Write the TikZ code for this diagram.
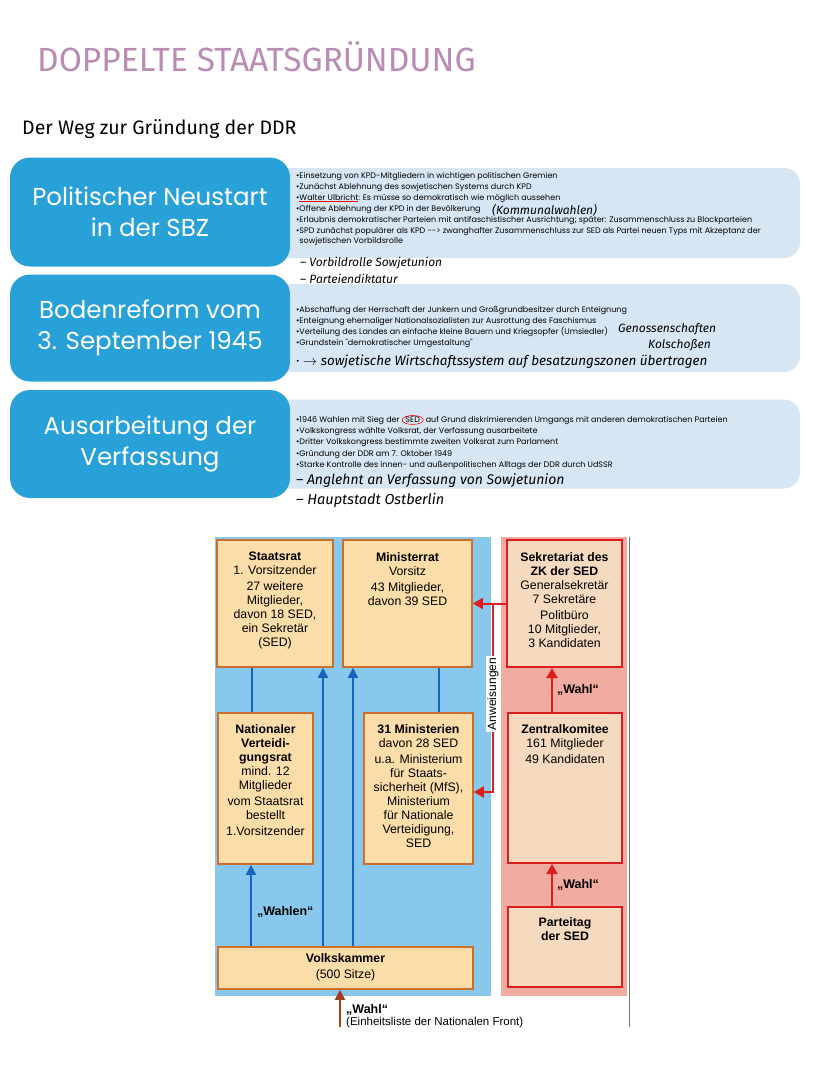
\documentclass[tikz,border=0pt]{standalone}
\usepackage{fontspec}
\setmainfont{Liberation Sans}
\newfontfamily\gothicfont{Poppins}
\newfontfamily\handfont{Fira Sans}
\usetikzlibrary{arrows.meta, positioning, shapes.geometric}

\definecolor{titlelila}{RGB}{186,140,180}
\definecolor{stepblue}{RGB}{40,160,216}
\definecolor{infoblue}{RGB}{214,230,243}
\definecolor{stateblue}{RGB}{135,200,236}
\definecolor{partyrose}{RGB}{240,172,160}
\definecolor{organfill}{RGB}{250,221,168}
\definecolor{organline}{RGB}{206,110,45}
\definecolor{partyfill}{RGB}{246,218,192}
\definecolor{partyred}{RGB}{222,30,30}
\definecolor{arrowblue}{RGB}{22,100,188}
\definecolor{votebrown}{RGB}{160,62,32}

\newcommand{\ulred}[1]{{\setbox0\hbox{#1}\rlap{\color{red}\rule[-1.6pt]{\wd0}{0.6pt}}#1}}
\newcommand{\ringred}[1]{\tikz[baseline=(ring.base)]\node[ellipse, draw=red, line width=0.6pt, inner sep=0.3pt] (ring) {#1};}

\begin{document}
\begin{tikzpicture}[x=1pt, y=-1pt,
    stepbox/.style={fill=stepblue, rounded corners=20pt, minimum width=280pt, text=white, align=center,
      font=\gothicfont\fontsize{24.5}{31}\selectfont},
    infobox/.style={fill=infoblue, rounded corners=16pt, minimum width=530pt},
    bullets/.style={anchor=north west, align=left, inner sep=0pt, font=\gothicfont\fontsize{8}{11.1}\selectfont},
    handnote/.style={anchor=west, inner sep=0pt, font=\handfont\itshape\fontsize{12}{13}\selectfont},
    organ/.style={draw=organline, line width=1.6pt, fill=organfill},
    partyorgan/.style={draw=partyred, line width=2pt, fill=partyfill},
    organtext/.style={align=center, inner sep=0pt, font=\fontsize{12.3}{14}\selectfont},
    stateline/.style={arrowblue, line width=2pt},
    statearrow/.style={stateline, -{Triangle[length=10pt, width=10pt]}},
    partyarrow/.style={partyred, line width=2pt, -{Triangle[length=10pt, width=11pt]}},
    votelabel/.style={inner sep=1pt, text=black, font=\bfseries\fontsize{12.5}{14}\selectfont}]

\fill[white] (0,0) rectangle (828,1071);
\useasboundingbox (0,0) rectangle (828,1071);

% Ueberschriften
\node[anchor=west, inner sep=0pt, text=titlelila, font=\handfont\fontsize{33.5}{34}\selectfont] (title) at (37,57) {DOPPELTE STAATSGRÜNDUNG};
\node[anchor=west, inner sep=0pt, font=\handfont\fontsize{19.5}{20}\selectfont] (subtitle) at (22,129) {Der Weg zur Gründung der DDR};

% Zeitleiste
\node[infobox, minimum height=90pt] at (535,213) (neustartinfo) {};
\node[infobox, minimum height=88pt] at (535,328) (bodeninfo) {};
\node[infobox, minimum height=89pt] at (535,444) (verfassunginfo) {};

\node[stepbox, minimum height=109pt] at (150,212) (neustart) {Politischer Neustart\\in der SBZ};
\node[stepbox, minimum height=107pt] at (150,328) (bodenreform) {Bodenreform vom\\3. September 1945};
\node[stepbox, minimum height=108pt] at (150,444) (verfassung) {Ausarbeitung der\\Verfassung};

\node[bullets] at (296,172) (neustartpunkte) {%
  •Einsetzung von KPD-Mitgliedern in wichtigen politischen Gremien\\
  •Zunächst Ablehnung des sowjetischen Systems durch KPD\\
  •\ulred{Walter Ulbricht}: Es müsse so demokratisch wie möglich aussehen\\
  •Offene Ablehnung der KPD in der Bevölkerung\\
  •Erlaubnis demokratischer Parteien mit antifaschistischer Ausrichtung; später: Zusammenschluss zu Blockparteien\\
  •SPD zunächst populärer als KPD -{}-> zwanghafter Zusammenschluss zur SED als Partei neuen Typs mit Akzeptanz der\\[-1.5pt]
  \phantom{•}sowjetischen Vorbildsrolle};
\node[handnote, font=\handfont\itshape\fontsize{12}{13}\selectfont] at (492,210) (kommunal) {(Kommunalwahlen)};
\node[handnote] at (300,263) (vorbild) {– Vorbildrolle Sowjetunion};
\node[handnote] at (300,279) (diktatur) {– Parteiendiktatur};

\node[bullets] at (296,306) (bodenpunkte) {%
  •Abschaffung der Herrschaft der Junkern und Großgrundbesitzer durch Enteignung\\
  •Enteignung ehemaliger Nationalsozialisten zur Ausrottung des Faschismus\\
  •Verteilung des Landes an einfache kleine Bauern und Kriegsopfer (Umsiedler)\\
  •Grundstein "demokratischer Umgestaltung"};
\node[handnote] at (618,329) (genossen) {Genossenschaften};
\node[handnote] at (648,345) (kolchosen) {Kolschoßen};
\node[handnote, font=\handfont\itshape\fontsize{13.5}{14}\selectfont] at (296,362) (wirtschaft) {· $\rightarrow$ sowjetische Wirtschaftssystem auf besatzungszonen übertragen};

\node[bullets] at (296,415) (verfassungpunkte) {%
  •1946 Wahlen mit Sieg der \ringred{SED} auf Grund diskrimierenden Umgangs mit anderen demokratischen Parteien\\
  •Volkskongress wählte Volksrat, der Verfassung ausarbeitete\\
  •Dritter Volkskongress bestimmte zweiten Volksrat zum Parlament\\
  •Gründung der DDR am 7. Oktober 1949\\
  •Starke Kontrolle des innen- und außenpolitischen Alltags der DDR durch UdSSR};
\node[handnote, font=\handfont\itshape\fontsize{14}{15}\selectfont] at (296,481) (angelehnt) {– Anglehnt an Verfassung von Sowjetunion};
\node[handnote, font=\handfont\itshape\fontsize{14.5}{15}\selectfont] at (296,500) (hauptstadt) {– Hauptstadt Ostberlin};

% Staatsaufbau der DDR
\fill[stateblue] (215,537) rectangle (491,996);
\fill[partyrose] (501,537) rectangle (627,996);
\draw[black!55, line width=0.8pt] (629,537) -- (629,1027);

\node[organ, minimum width=116pt, minimum height=127pt] at (275,603.5) (staatsrat) {};
\node[organ, minimum width=129pt, minimum height=127pt] at (407.5,603.5) (ministerrat) {};
\node[partyorgan, minimum width=115pt, minimum height=127pt] at (564.5,603.5) (sekretariat) {};
\node[organ, minimum width=95pt, minimum height=151pt] at (265.5,788.5) (nvr) {};
\node[organ, minimum width=109pt, minimum height=151pt] at (418.5,788.5) (ministerien) {};
\node[partyorgan, minimum width=114pt, minimum height=150pt] at (565,788) (zk) {};
\node[organ, minimum width=255pt, minimum height=42pt] at (345.5,968) (volkskammer) {};
\node[partyorgan, minimum width=114pt, minimum height=80pt] at (565,947) (parteitag) {};

\node[organtext, below=13pt of staatsrat.north] (staatsrattext) {\textbf{Staatsrat}\\1. Vorsitzender\\[2pt]27 weitere\\Mitglieder,\\davon 18 SED,\\ein Sekretär\\(SED)};
\node[organtext, below=13pt of ministerrat.north] (ministerrattext) {\textbf{Ministerrat}\\Vorsitz\\[2pt]43 Mitglieder,\\davon 39 SED};
\node[organtext, below=13pt of sekretariat.north] (sekretariattext) {\textbf{Sekretariat des}\\\textbf{ZK der SED}\\Generalsekretär\\7 Sekretäre\\[2pt]Politbüro\\10 Mitglieder,\\3 Kandidaten};
\node[organtext, below=12pt of nvr.north] (nvrtext) {\textbf{Nationaler}\\\textbf{Verteidi-}\\\textbf{gungsrat}\\mind. 12\\Mitglieder\\[2pt]vom Staatsrat\\bestellt\\[2pt]1.Vorsitzender};
\node[organtext, below=12pt of ministerien.north] (ministerientext) {\textbf{31 Ministerien}\\davon 28 SED\\[2pt]u.a. Ministerium\\für Staats-\\sicherheit (MfS),\\Ministerium\\für Nationale\\Verteidigung,\\SED};
\node[organtext, below=12pt of zk.north] (zktext) {\textbf{Zentralkomitee}\\161 Mitglieder\\[2pt]49 Kandidaten};
\node[organtext, below=7pt of volkskammer.north] (volkskammertext) {\textbf{Volkskammer}\\[2pt](500 Sitze)};
\node[organtext, below=11pt of parteitag.north] (parteitagtext) {\textbf{Parteitag}\\\textbf{der SED}};

% blaue Verbindungen
\draw[stateline] ([xshift=-13.5pt]nvr.north) -- ([xshift=-13.5pt]nvr.north |- staatsrat.south);
\draw[stateline] ([xshift=20.5pt]ministerien.north) -- ([xshift=20.5pt]ministerien.north |- ministerrat.south);
\draw[statearrow] ([xshift=-14.5pt]nvr.south |- volkskammer.north) -- node[votelabel, right=4pt, pos=0.42] {„Wahlen“} ([xshift=-14.5pt]nvr.south);
\draw[statearrow] ([xshift=48pt]staatsrat.south |- volkskammer.north) -- ([xshift=48pt]staatsrat.south);
\draw[statearrow] ([xshift=-54.5pt]ministerrat.south |- volkskammer.north) -- ([xshift=-54.5pt]ministerrat.south);

% rote Verbindungen
\coordinate (anweisung) at (493,603.5);
\draw[partyarrow] (sekretariat.west) -- (ministerrat.east);
\draw[partyarrow] (anweisung) |- node[pos=0.24, rotate=90, fill=white, text=black, inner sep=1.5pt, font=\fontsize{12}{12}\selectfont] {Anweisungen} ([yshift=-3.5pt]ministerien.east);
\draw[partyarrow] ([xshift=-13pt]zk.north) -- node[votelabel, right=3pt] {„Wahl“} ([xshift=-13pt]zk.north |- sekretariat.south);
\draw[partyarrow] ([xshift=-13pt]parteitag.north) -- node[votelabel, right=3pt] {„Wahl“} ([xshift=-13pt]parteitag.north |- zk.south);

% Wahl zur Volkskammer
\coordinate (wahlfuss) at (340,1027);
\draw[votebrown, line width=2pt, -{Triangle[length=10pt, width=10pt]}] (wahlfuss) -- (wahlfuss |- volkskammer.south);
\node[votelabel, anchor=west] at (345,1010) (wahllabel) {„Wahl“};
\node[anchor=west, inner sep=1pt, font=\fontsize{11.5}{12}\selectfont] at (345,1023) (einheitsliste) {(Einheitsliste der Nationalen Front)};
\end{tikzpicture}
\end{document}
